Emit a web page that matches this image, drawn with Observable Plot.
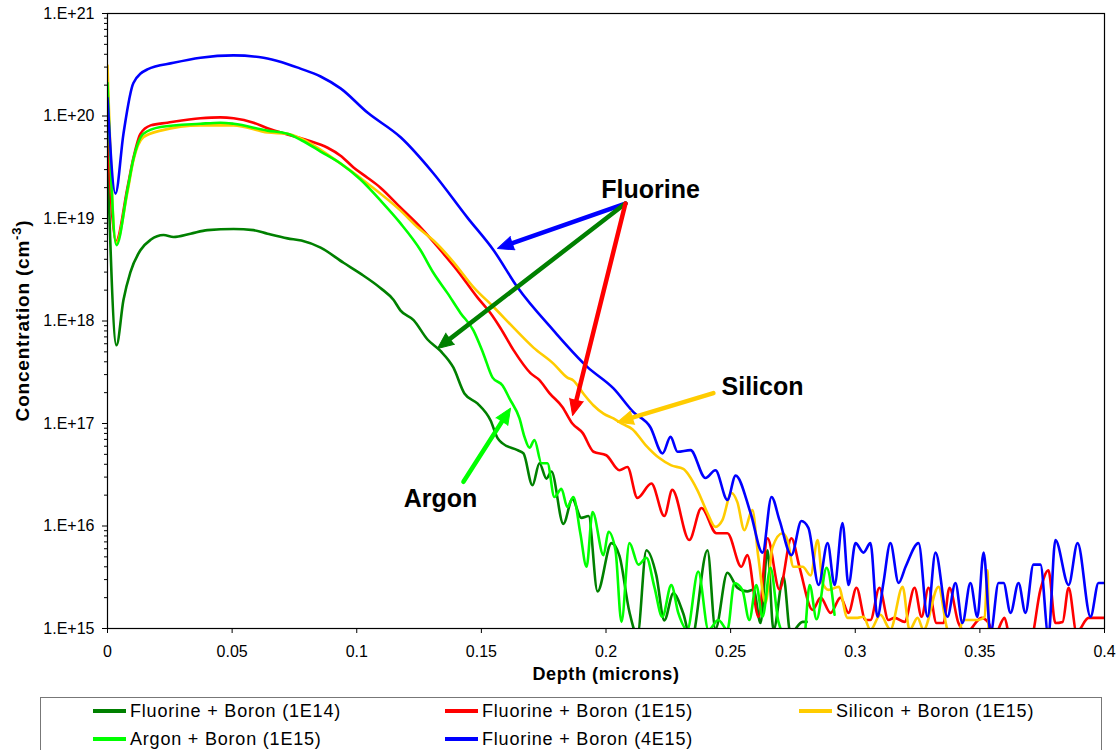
<!DOCTYPE html>
<html><head><meta charset="utf-8">
<script src="https://cdn.jsdelivr.net/npm/d3@7"></script>
<script src="https://cdn.jsdelivr.net/npm/@observablehq/plot@0.6"></script>
<style>
body{margin:0;background:#fff;font-family:"Liberation Sans",Arial,sans-serif;}
#wrap{position:relative;width:1119px;height:750px;overflow:hidden;background:#fff;}
#legend{position:absolute;left:40px;top:697px;width:1062px;height:70px;border:1px solid #777;box-sizing:border-box;}
.item{position:absolute;height:22px;display:flex;align-items:center;font-size:18px;white-space:nowrap;color:#000;letter-spacing:0.8px;}
.sw{display:inline-block;width:33px;height:4px;margin-right:4px;}
</style></head>
<body><div id="wrap"><div id="chart"></div><div id="legend"></div></div>
<script>
// ---- series (depth in microns, concentration in cm^-3) ----
const seriesNames = ["Fluorine + Boron (1E14)", "Fluorine + Boron (1E15)", "Silicon + Boron (1E15)", "Argon + Boron (1E15)", "Fluorine + Boron (4E15)"];
const seriesColors = ["#008000", "#FF0000", "#FFCC00", "#00FF00", "#0000FF"];

const fluorineBoron1E14 = [
[0,4.0e19],[0.0036,5.8e17],[0.0064,1.6e18],[0.0092,3.0e18],[0.0132,4.9e18],[0.0173,6.2e18],[0.0225,6.9e18],[0.0265,6.6e18],
[0.0333,7.1e18],[0.0401,7.7e18],[0.0506,7.9e18],[0.0586,7.7e18],[0.0642,7.1e18],[0.0722,6.4e18],[0.0778,6.1e18],[0.0855,5.2e18],
[0.0947,3.7e18],[0.1015,2.9e18],[0.1095,2.1e18],[0.1148,1.6e18],[0.1175,1.27e18],[0.1228,1.02e18],[0.1284,6.6e17],[0.1336,5.1e17],
[0.1388,3.5e17],[0.1432,1.96e17],[0.1484,1.57e17],[0.1537,1.07e17],[0.1565,7.2e16],[0.1585,6.4e16],[0.1645,5.5e16],[0.1669,5.1e16],
[0.1705,2.5e16],[0.1733,4.1e16],[0.1761,2.9e16],[0.1781,3.4e16],[0.1829,1.05e16],[0.1865,1.83e16],[0.1901,1.2e16],[0.1930,1.25e16],
[0.1966,2.3e15],[0.2022,6.8e15],[0.2054,5.1e15],[0.2094,1.45e15],[0.2126,8.6e14],[0.2162,5.8e15],[0.2202,3.3e15],[0.2234,1.2e15],
[0.2270,2.2e15],[0.2310,1.4e15],[0.2342,7.7e14],[0.2407,5.8e15],[0.2439,9.9e14],[0.2487,3.5e15],[0.2527,2.5e15],[0.2567,2.3e15],
[0.2592,2.4e15],[0.2620,1.13e15],[0.2648,5.8e15],[0.2672,9.7e14],[0.2712,3.2e15],[0.2740,9.0e14],[0.2789,1.16e15],[0.2805,1.16e15]
];

const fluorineBoron1E15 = [
[0,6.2e19],[0.0034,6.0e18],[0.008,2.0e19],[0.0104,3.9e19],[0.0132,6.7e19],[0.0173,8.1e19],[0.024,8.6e19],[0.0373,9.5e19],
[0.0453,9.7e19],[0.0506,9.5e19],[0.0586,8.6e19],[0.0642,7.6e19],[0.0722,6.6e19],[0.0802,5.8e19],[0.0883,4.9e19],[0.0935,4.1e19],
[0.0987,3.15e19],[0.1043,2.5e19],[0.1095,2.0e19],[0.1175,1.28e19],[0.1256,8.2e18],[0.1336,4.9e18],[0.1404,3.1e18],[0.1484,1.7e18],
[0.1537,1.19e18],[0.1577,8.5e17],[0.1629,5.2e17],[0.1697,3.1e17],[0.1733,2.65e17],[0.1773,1.98e17],[0.1825,1.45e17],[0.1865,1.0e17],
[0.1906,8.1e16],[0.195,5.3e16],[0.2001,4.9e16],[0.2054,3.5e16],[0.2086,3.76e16],[0.2126,1.88e16],[0.2182,2.6e16],[0.2234,1.25e16],
[0.2266,2.25e16],[0.2334,7.3e15],[0.2383,1.5e16],[0.2443,8.5e15],[0.2487,8.5e15],[0.2543,4.0e15],[0.2567,5.2e15],[0.2612,1.3e15],
[0.2648,7.6e15],[0.2696,2.4e15],[0.2744,7.6e15],[0.2776,4.0e15],[0.2829,1.52e15],[0.2861,2.0e15],[0.2901,1.42e15],[0.2941,2.0e15],
[0.2973,1.42e15],[0.3005,2.5e15],[0.3041,1.21e15],[0.3061,1.21e15],[0.3097,2.5e15],[0.3133,1.21e15],[0.3158,1.27e15],[0.3198,1.16e15],
[0.3238,2.5e15],[0.3266,1.3e15],[0.3294,2.5e15],[0.3326,1.13e15],[0.3354,1.13e15],[0.3378,2.5e15],[0.3414,1.13e15],[0.3446,9.2e14],
[0.3507,1.27e15],[0.3535,1.13e15],[0.3559,8.6e14],[0.3599,1.27e15],[0.3623,7.7e14],[0.3703,7.7e14],[0.3743,2.4e15],[0.3775,3.7e15],
[0.3803,1.13e15],[0.3832,1.16e15],[0.3856,2.5e15],[0.3888,9.2e14],[0.3936,1.27e15],[0.4,1.27e15]
];

const siliconBoron1E15 = [
[0,3.1e20],[0.0035,5.8e18],[0.008,1.8e19],[0.0104,3.7e19],[0.0144,6.2e19],[0.0213,7.2e19],[0.0373,8.1e19],[0.0506,8.1e19],
[0.0642,6.9e19],[0.0722,6.7e19],[0.0778,6.0e19],[0.0907,3.84e19],[0.1043,2.2e19],[0.1175,1.2e19],[0.1244,8.2e18],[0.1308,6.1e18],
[0.1388,3.76e18],[0.1468,2.14e18],[0.1549,1.37e18],[0.1629,8.6e17],[0.1709,5.5e17],[0.1789,3.84e17],[0.1845,2.8e17],[0.1869,2.63e17],
[0.1909,1.96e17],[0.1950,1.5e17],[0.1990,1.25e17],[0.2030,1.12e17],[0.2066,9.9e16],[0.2106,8.8e16],[0.2158,6.2e16],[0.2214,4.6e16],
[0.2262,3.9e16],[0.2310,3.6e16],[0.2366,2.25e16],[0.2407,1.34e16],[0.2439,9.8e15],[0.2467,1.14e16],[0.2503,2.1e16],[0.2527,1.71e16],
[0.2555,9.1e15],[0.2587,1.43e16],[0.2611,5.0e15],[0.2640,1.78e15],[0.2668,6.2e15],[0.2708,8.5e15],[0.2728,7.3e15],[0.2752,4.0e15],
[0.2789,4.0e15],[0.2821,3.3e15],[0.2849,7.3e15],[0.2869,2.78e15],[0.2893,2.38e15],[0.2933,2.55e15],[0.2969,1.27e15],[0.3009,1.27e15],
[0.3033,1.3e15],[0.3061,9.7e14],[0.3101,1.36e15],[0.3141,9.8e14],[0.3190,2.55e15],[0.3218,9.7e14],[0.3250,1.27e15],[0.3274,9.7e14],
[0.3334,2.55e15],[0.3370,9.7e14],[0.3406,7.7e14],[0.3434,1.21e15],[0.3494,1.21e15],[0.3519,1.3e15],[0.3531,3.7e15],[0.3535,7.7e14]
];

const argonBoron1E15 = [
[0,2.1e20],[0.0036,5.5e18],[0.008,1.9e19],[0.0104,3.8e19],[0.0144,6.7e19],[0.0213,7.8e19],[0.0373,8.4e19],[0.0453,8.6e19],
[0.0506,8.4e19],[0.0642,7.2e19],[0.0722,6.7e19],[0.0778,5.8e19],[0.0855,4.5e19],[0.0935,3.44e19],[0.1015,2.4e19],[0.1095,1.5e19],
[0.1175,9.0e18],[0.1256,4.9e18],[0.1308,2.94e18],[0.1364,1.87e18],[0.1416,1.2e18],[0.1468,8.1e17],[0.1508,4.8e17],[0.1545,2.8e17],
[0.1585,2.35e17],[0.1613,1.75e17],[0.1653,1.12e17],[0.1673,7.4e16],[0.1693,5.8e16],[0.1713,6.9e16],[0.1741,4.1e16],[0.1765,4.1e16],
[0.1793,1.92e16],[0.1821,2.3e16],[0.1845,1.53e16],[0.1869,1.92e16],[0.1897,8.5e15],[0.1922,4.0e15],[0.1946,1.37e16],[0.1990,5.2e15],
[0.2010,8.8e15],[0.2038,5.8e15],[0.2062,1.16e15],[0.2094,6.8e15],[0.2130,4.2e15],[0.2162,4.9e15],[0.2194,2.55e15],[0.2226,1.3e15],
[0.2262,2.65e15],[0.2290,1.42e15],[0.2326,9.7e14],[0.2370,3.6e15],[0.2411,9.7e14],[0.2451,1.21e15],[0.2487,9.7e14],[0.2515,2.78e15],
[0.2547,2.38e15],[0.2575,1.21e15],[0.2603,2.66e15],[0.2628,1.3e15],[0.2660,3.9e15],[0.2692,1.16e15],[0.2732,7.7e14],[0.2793,7.7e14],
[0.2817,2.66e15],[0.2845,1.23e15],[0.2885,3.9e15],[0.2917,1.36e15]
];

const fluorineBoron4E15 = [
[0,1.5e20],[0.0032,1.75e19],[0.0064,6.7e19],[0.0104,2.1e20],[0.016,2.85e20],[0.0265,3.3e20],[0.0373,3.7e20],[0.0506,3.9e20],
[0.0626,3.7e20],[0.0700,3.35e20],[0.0774,2.9e20],[0.0855,2.43e20],[0.0935,1.86e20],[0.1043,1.08e20],[0.1176,6.2e19],[0.1308,2.75e19],[0.1444,1.02e19],
[0.1549,4.9e18],[0.1645,2.13e18],[0.1789,8.1e17],[0.1926,3.55e17],[0.2030,2.2e17],[0.2110,1.29e17],[0.2178,9.2e16],[0.2227,5.1e16],
[0.2259,7.4e16],[0.2287,5.3e16],[0.2339,5.5e16],[0.2399,2.94e16],[0.2439,3.5e16],[0.2487,1.8e16],[0.2520,3.1e16],[0.2580,1.34e16],
[0.2628,5.5e15],[0.2664,1.92e16],[0.2696,1.14e16],[0.2744,5.2e15],[0.2784,1.12e16],[0.2812,9.6e15],[0.2853,2.66e15],[0.2889,6.8e15],
[0.2917,2.66e15],[0.2949,1.07e16],[0.2973,2.66e15],[0.3001,6.8e15],[0.3033,5.5e15],[0.3061,6.8e15],[0.3089,1.3e15],[0.3113,2.78e15],
[0.3141,6.8e15],[0.3174,2.78e15],[0.3202,4.0e15],[0.3254,6.8e15],[0.3290,1.3e15],[0.3322,5.5e15],[0.3370,1.3e15],[0.3402,2.78e15],
[0.3430,1.13e15],[0.3462,2.78e15],[0.3490,1.3e15],[0.3515,5.5e15],[0.3543,9.0e14],[0.3575,2.78e15],[0.3595,2.78e15],[0.3623,1.42e15],
[0.3655,2.78e15],[0.3683,1.42e15],[0.3715,4.2e15],[0.3743,4.2e15],[0.3775,8.5e14],[0.3803,7.3e15],[0.3856,2.66e15],[0.3892,6.8e15],
[0.3944,1.3e15],[0.3976,2.78e15],[0.4,2.78e15]
];

// ---- axes ----
const xTicks = [0, 0.05, 0.1, 0.15, 0.2, 0.25, 0.3, 0.35, 0.4];
const xTickLabels = ["0", "0.05", "0.1", "0.15", "0.2", "0.25", "0.3", "0.35", "0.4"];
const yTicks = [1e15, 1e16, 1e17, 1e18, 1e19, 1e20, 1e21];
const yTickLabels = ["1.E+15", "1.E+16", "1.E+17", "1.E+18", "1.E+19", "1.E+20", "1.E+21"];
const yMinorMantissas = [2, 3, 4, 5, 6, 7, 8, 9];

// ---- annotations ----
const labelTexts = ["Fluorine", "Silicon", "Argon"];
const labelDepth = [0.2179, 0.2628, 0.1336];
const labelConc = [1.88e19, 2.26e17, 1.83e16];
const arrowStartDepth = [0.2078, 0.2078, 0.2078, 0.2431, 0.1428];
const arrowStartConc = [1.4e19, 1.4e19, 1.4e19, 1.98e17, 2.7e16];
const arrowEndDepth = [0.1565, 0.1324, 0.1866, 0.2046, 0.1617];
const arrowEndConc = [5.1e18, 5.4e17, 1.2e17, 1.03e17, 1.41e17];
const arrowColors = ["#0000FF", "#008000", "#FF0000", "#FFCC00", "#00FF00"];

// ---- build tables ----
const seriesData = [fluorineBoron1E14, fluorineBoron1E15, siliconBoron1E15, argonBoron1E15, fluorineBoron4E15];
const rows = seriesData.flatMap((pts, i) => pts.map(([depth, conc]) => ({series: seriesNames[i], depth, conc})));
const minorTicks = yTicks.slice(0, -1).flatMap(t => yMinorMantissas.map(m => m * t));
const labels = labelTexts.map((t, i) => ({t, x: labelDepth[i], y: labelConc[i]}));
const arrows = arrowColors.map((c, i) => ({x1: arrowStartDepth[i], y1: arrowStartConc[i], x2: arrowEndDepth[i], y2: arrowEndConc[i], c}));

const font = "Liberation Sans, Arial, sans-serif";
function makePlot(extra) {
  return Plot.plot({
    width: 1119, height: 695,
    marginLeft: 107, marginRight: 15, marginTop: 13, marginBottom: 67,
    style: {fontFamily: font, fontSize: "16px", color: "#000", background: "#fff"},
    x: {domain: [0, 0.4], label: null},
    y: {type: "log", domain: [1e15, 1e21], label: null},
    color: {domain: seriesNames, range: seriesColors},
    marks: [
      Plot.axisY(minorTicks, {tickSize: 3, tickFormat: () => "", label: null, stroke: "#000"}),
      Plot.axisY(yTicks, {tickSize: 5, tickPadding: 8, fontSize: 16, tickFormat: d => yTickLabels[yTicks.indexOf(d)], label: null, stroke: "#000"}),
      Plot.axisX(xTicks, {tickSize: 5, tickPadding: 12, fontSize: 16, tickFormat: d => xTickLabels[xTicks.indexOf(d)], label: null, stroke: "#000"}),
      Plot.line(rows, {x: "depth", y: "conc", z: "series", stroke: "series", strokeWidth: 2.6, curve: "monotone-x", clip: true}),
      Plot.frame({stroke: "#000", strokeWidth: 1.2}),
      Plot.arrow(arrows, {x1: "x1", y1: "y1", x2: "x2", y2: "y2", stroke: d => d.c, strokeWidth: 4.5, headLength: 0, insetEnd: 12}),
      ...extra,
      Plot.text(labels, {x: "x", y: "y", text: "t", fontWeight: "bold", fontSize: 25, fill: "#000"}),
      Plot.text(["Depth (microns)"], {frameAnchor: "bottom", dy: 51, fontWeight: "bold", fontSize: 18, fill: "#000"})
    ]
  });
}
// first pass to read the scales, then compute arrowhead directions on screen
const pre = makePlot([]);
const sx = pre.scale("x"), sy = pre.scale("y");
arrows.forEach(a => {
  const dx = sx.apply(a.x2) - sx.apply(a.x1), dy = sy.apply(a.y2) - sy.apply(a.y1);
  a.angle = Math.atan2(dx, -dy) * 180 / Math.PI;
});
const chart = makePlot([
  Plot.vector(arrows, {x: "x2", y: "y2", rotate: "angle", length: 16, r: 7, shape: "spike", anchor: "end", fill: d => d.c, stroke: d => d.c, strokeWidth: 1})
]);
document.getElementById("chart").appendChild(chart);
d3.select(chart).selectAll("text").filter(function(){ return this.textContent === "Depth (microns)"; }).style("letter-spacing", "0.6px");

// y-axis title with superscript
const svg = d3.select(chart);
const yt = svg.append("text")
  .attr("transform", "translate(22,320.5) rotate(-90)")
  .attr("text-anchor", "middle")
  .attr("font-family", font).attr("font-weight", "bold").attr("font-size", 19)
  .attr("letter-spacing", "0.8px")
  .attr("dy", "0.35em").attr("fill", "#000");
yt.append("tspan").text("Concentration (cm");
yt.append("tspan").attr("dy", -8).attr("font-size", 13).text("-3");
yt.append("tspan").attr("dy", 8).text(")");

// legend
const legendPos = [[52, 2], [404, 2], [758, 2], [52, 30], [404, 30]];
const legend = document.getElementById("legend");
seriesNames.forEach((name, i) => {
  const it = document.createElement("div");
  it.className = "item";
  it.style.left = legendPos[i][0] + "px";
  it.style.top = legendPos[i][1] + "px";
  const sw = document.createElement("span");
  sw.className = "sw";
  sw.style.background = seriesColors[i];
  it.appendChild(sw);
  it.appendChild(document.createTextNode(name));
  legend.appendChild(it);
});
</script></body></html>
